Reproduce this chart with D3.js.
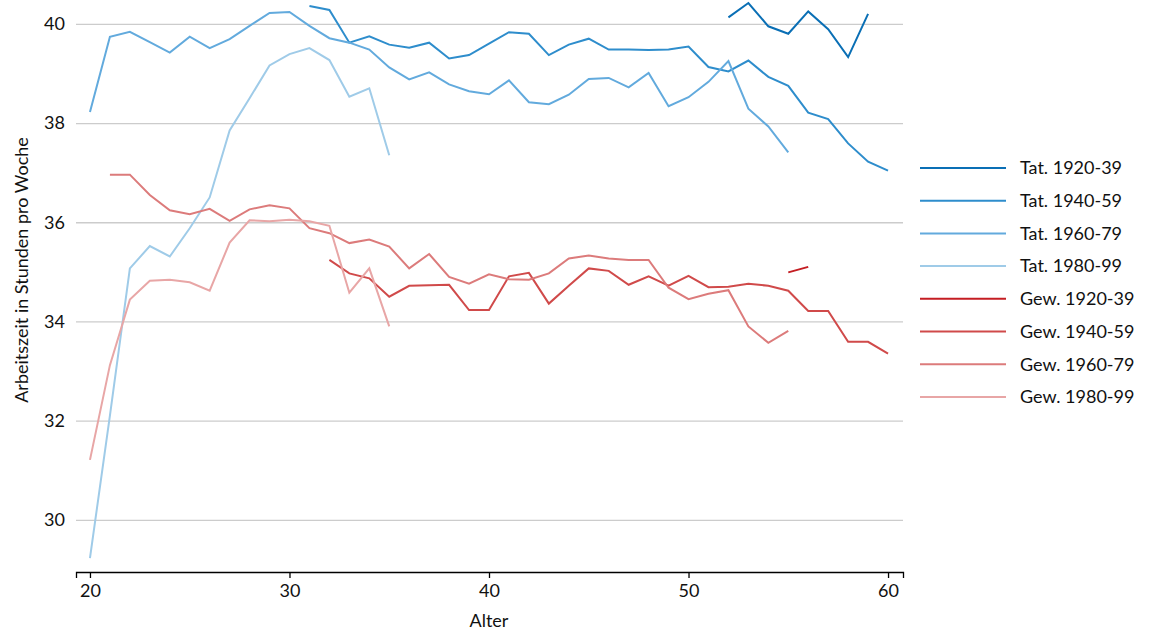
<!DOCTYPE html>
<html>
<head>
<meta charset="utf-8">
<script src="https://cdn.jsdelivr.net/npm/d3@7"></script>
<style>
  body { margin: 0; background: #fff; }
  svg text { font-family: "Source Sans Pro", Lato, "Noto Sans", sans-serif; fill: #111; }
  .grid line { stroke: #cccccc; stroke-width: 1.3; }
  .grid path { display: none; }
</style>
</head>
<body>
<svg width="1152" height="630"></svg>
<script>
// ages 20..60
const ages = d3.range(20, 61);

// series values, starting age + values per year of age
const tat1920 = { start: 52, values: [40.13, 40.42, 39.95, 39.80, 40.25, 39.89, 39.33, 40.20] };
const tat1940 = { start: 31, values: [40.36, 40.28, 39.62, 39.75, 39.58, 39.52, 39.62, 39.30, 39.37, 39.60,
  39.83, 39.80, 39.37, 39.58, 39.70, 39.48, 39.48, 39.47, 39.48, 39.54,
  39.13, 39.04, 39.26, 38.93, 38.75, 38.21, 38.08, 37.59, 37.22, 37.04] };
const tat1960 = { start: 20, values: [38.22, 39.74, 39.84, 39.63, 39.42, 39.74, 39.51, 39.69, 39.96, 40.22,
  40.24, 39.96, 39.71, 39.62, 39.48, 39.12, 38.88, 39.02, 38.78, 38.64,
  38.58, 38.86, 38.42, 38.38, 38.57, 38.89, 38.91, 38.72, 39.01, 38.34,
  38.52, 38.83, 39.25, 38.29, 37.93, 37.41] };
const tat1980 = { start: 20, values: [29.23, 32.10, 35.07, 35.52, 35.31, 35.88, 36.50, 37.85, 38.50, 39.16,
  39.39, 39.51, 39.27, 38.53, 38.70, 37.35] };
const gew1920 = { start: 55, values: [34.99, 35.10] };
const gew1940 = { start: 32, values: [35.24, 34.97, 34.87, 34.50, 34.72, 34.73, 34.74, 34.23, 34.23,
  34.91, 34.98, 34.36, 34.72, 35.07, 35.02, 34.74, 34.91, 34.72, 34.92,
  34.69, 34.70, 34.76, 34.72, 34.62, 34.21, 34.21, 33.59, 33.59, 33.35] };
const gew1960 = { start: 21, values: [36.96, 36.96, 36.55, 36.24, 36.16, 36.27, 36.03, 36.26, 36.34,
  36.28, 35.88, 35.78, 35.58, 35.65, 35.51, 35.07, 35.36, 34.90, 34.76,
  34.95, 34.85, 34.84, 34.97, 35.27, 35.33, 35.27, 35.24, 35.24, 34.68,
  34.45, 34.56, 34.63, 33.90, 33.57, 33.81] };
const gew1980 = { start: 20, values: [31.21, 33.12, 34.44, 34.82, 34.84, 34.79, 34.62, 35.59, 36.04, 36.02,
  36.05, 36.02, 35.93, 34.58, 35.07, 33.90] };

const seriesNames = ["Tat. 1920-39", "Tat. 1940-59", "Tat. 1960-79", "Tat. 1980-99",
  "Gew. 1920-39", "Gew. 1940-59", "Gew. 1960-79", "Gew. 1980-99"];
const seriesData = [tat1920, tat1940, tat1960, tat1980, gew1920, gew1940, gew1960, gew1980];
const seriesColors = ["#0a6fb5", "#2e8dcc", "#62aadd", "#9fcbe8",
  "#c41d22", "#d04a4a", "#dc7b7b", "#e8a6a6"];

const xTicks = [20, 30, 40, 50, 60];
const yTicks = [30, 32, 34, 36, 38, 40];

const svg = d3.select("svg");

const x = d3.scaleLinear().domain([19.3, 60.75]).range([76, 903]);
const y = d3.scaleLinear().domain([28.95, 40.48]).range([572, 0]);

// Y gridlines with labels
const yAxis = svg.append("g")
  .attr("class", "grid")
  .attr("transform", "translate(76,0)")
  .call(d3.axisLeft(y).tickValues(yTicks).tickSize(-(903 - 76)).tickPadding(11).tickFormat(d3.format("d")));
yAxis.selectAll("text").style("font-size", "18px");

// X axis
const xAxis = svg.append("g")
  .attr("transform", "translate(0,572)")
  .call(d3.axisBottom(x).tickValues(xTicks).tickSizeOuter(0).tickSize(6).tickPadding(6));
xAxis.select(".domain").attr("stroke", "#000").attr("stroke-width", 1.3);
xAxis.selectAll(".tick line").attr("stroke", "#000").attr("stroke-width", 1.3);
xAxis.selectAll("text").style("font-size", "18px");

// Lines
const line = d3.line()
  .x(d => x(d.age))
  .y(d => y(d.value));

seriesData.forEach((s, i) => {
  const pts = s.values.map((v, j) => ({ age: s.start + j, value: v }));
  svg.append("path")
    .datum(pts)
    .attr("fill", "none")
    .attr("stroke", seriesColors[i])
    .attr("stroke-width", 2)
    .attr("d", line);
});

// Legend
const legend = svg.append("g").attr("transform", "translate(920,168)");
seriesNames.forEach((name, i) => {
  const g = legend.append("g").attr("transform", `translate(0, ${i * 32.7})`);
  g.append("line")
    .attr("x1", 0).attr("x2", 86)
    .attr("stroke", seriesColors[i])
    .attr("stroke-width", 2);
  g.append("text")
    .attr("x", 100)
    .attr("dy", "0.35em")
    .style("font-size", "18px")
    .text(name);
});

// Axis titles
svg.append("text")
  .attr("x", 489)
  .attr("y", 627)
  .attr("text-anchor", "middle")
  .style("font-size", "18px")
  .text("Alter");

svg.append("text")
  .attr("transform", "translate(28,270) rotate(-90)")
  .attr("text-anchor", "middle")
  .style("font-size", "18px")
  .text("Arbeitszeit in Stunden pro Woche");
</script>
</body>
</html>
